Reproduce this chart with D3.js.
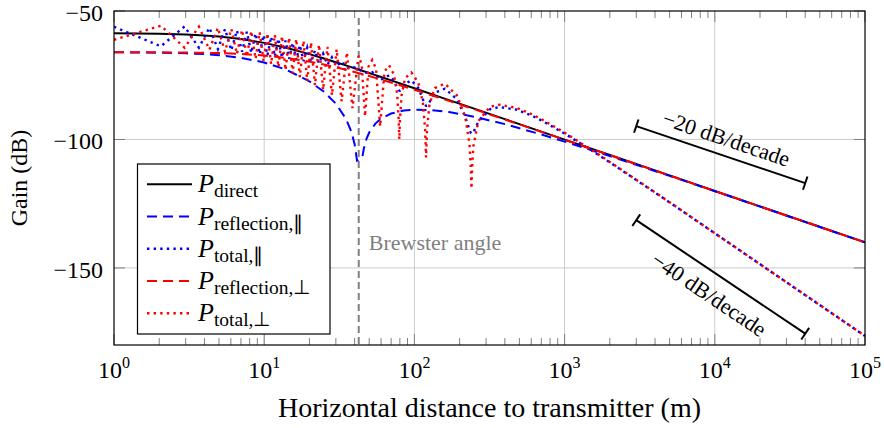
<html>
<head>
	<title>two-ray ground reflection</title>
	<style>
		body { margin: 0; background: #fff; }
		text { font-family: "Liberation Serif", serif; fill: #000; }
	</style>
</head>
<body>
<div id="dataviz"></div>

<script src="https://d3js.org/d3.v7.min.js"></script>
<script>

	//distances (m) for the smooth curves
	var smoothDist = [1, 2, 3, 4, 5, 7, 10, 14, 20, 25, 30, 35, 38, 40, 41.5, 45, 46, 48, 50, 55, 60, 70, 85,
		100, 130, 170, 250, 400, 700, 1000, 2000, 5000, 10000, 100000];
	var directGain = [-58.70, -58.87, -59.15, -59.51, -59.93, -60.89, -62.41, -64.34, -66.79, -68.48, -69.93, -71.18,
		-71.86, -72.28, -72.59, -73.27, -73.45, -73.81, -74.15, -74.96, -75.70, -77.02, -78.68, -80.08, -82.35, -84.67,
		-88.01, -92.09, -96.95, -100.05, -106.07, -113.98, -120.05, -140.05];
	var reflParGain = [-66.07, -66.22, -66.46, -66.79, -67.20, -68.20, -70.03, -72.82, -77.36, -81.45, -86.07, -91.91,
		-96.89, -101.88, -108.25, -107.0, -103.7, -99.75, -97.31, -93.81, -91.90, -89.91, -88.74, -88.38, -88.56, -89.34,
		-91.15, -94.04, -98.06, -100.83, -106.46, -114.18, -120.13, -140.06];
	var reflPerpGain = [-66.04, -66.08, -66.16, -66.26, -66.39, -66.71, -67.32, -68.26, -69.71, -70.85, -71.91, -72.88,
		-73.42, -73.77, -74.02, -74.58, -74.74, -75.04, -75.33, -76.03, -76.68, -77.85, -79.36, -80.66, -82.79, -85.00,
		-88.24, -92.23, -97.03, -100.11, -106.10, -114.04, -120.06, -140.05];

	//distances (m) for the interference curves (peaks and nulls)
	var totalDist = [1, 2.051, 2.950, 3.675, 4.318, 4.916, 5.485, 6.038, 6.581, 7.121, 7.663, 8.209, 8.763, 9.329,
		9.909, 10.506, 11.124, 11.766, 12.435, 13.135, 13.871, 14.646, 15.467, 16.340, 17.272, 18.270, 19.346, 20.509,
		21.775, 23.159, 24.682, 26.368, 28.249, 30.364, 32.762, 35.514, 38.702, 42.450, 44.583, 46.923, 49.505, 52.367,
		55.559, 59.142, 63.197, 67.822, 73.151, 76.76, 78.56, 79.359, 80.17, 82.14, 86.686, 95.466, 106.19, 113.84,
		117.79, 119.57, 121.41, 125.91, 136.77, 159.68, 191.73, 217.95, 232.8, 237.4, 239.79, 242.2, 247.2, 266.47,
		319.84, 369.2, 479.9, 600, 700, 1000, 1500, 2000, 3000, 5000, 10000, 30000, 100000];
	var totalParGain = [-56.14, -63.75, -56.02, -64.29, -56.51, -64.82, -57.03, -65.33, -57.56, -65.84, -58.12, -66.33,
		-58.71, -66.81, -59.34, -67.28, -60.00, -67.74, -60.72, -68.18, -61.50, -68.62, -62.32, -69.06, -63.23, -69.50,
		-64.23, -69.94, -65.35, -70.40, -66.59, -70.90, -68.01, -71.45, -69.66, -72.08, -71.60, -72.83, -73.19, -73.97,
		-74.05, -73.78, -74.99, -76.96, -76.00, -75.08, -77.13, -79.76, -80.81, -80.99, -81.03, -80.57, -78.42, -76.98,
		-79.93, -84.36, -86.48, -86.93, -86.92, -85.48, -81.79, -80.25, -84.29, -91.17, -96.34, -97.44, -97.71, -97.77,
		-97.19, -93.07, -88.19, -87.36, -88.42, -90.65, -92.57, -97.69, -104.14, -108.91, -115.77, -124.49, -136.51,
		-155.58, -176.48];
	var totalPerpGain = [-61.20, -55.73, -64.25, -56.12, -65.05, -56.52, -65.89, -56.93, -66.76, -57.35, -67.67, -57.78,
		-68.62, -58.23, -69.62, -58.71, -70.69, -59.21, -71.82, -59.73, -73.03, -60.29, -74.32, -60.90, -75.72, -61.55,
		-77.24, -62.27, -78.90, -63.05, -80.74, -63.93, -82.80, -64.93, -85.13, -66.08, -87.83, -67.43, -70.79, -91.02,
		-71.61, -69.06, -72.53, -94.91, -73.57, -71.15, -74.76, -82.28, -92.07, -99.95, -92.26, -82.85, -76.16, -73.96,
		-77.85, -85.59, -95.88, -107.02, -96.16, -86.45, -79.98, -78.28, -82.85, -91.12, -101.93, -110.97, -119.12,
		-111.16, -102.46, -92.85, -87.23, -86.46, -87.71, -90.08, -92.07, -97.35, -103.91, -108.74, -115.67, -124.43,
		-136.49, -155.57, -176.48];

	//axis ticks
	var xTicks = [1, 10, 100, 1000, 10000, 100000];
	var xTickExp = ['0', '1', '2', '3', '4', '5'];
	var yTicks = [-50, -100, -150];
	var yTickLabels = ['\u221250', '\u2212100', '\u2212150'];

	//annotations
	var brewsterDist = 42.6;
	var slopeLabels = ['\u221220 dB/decade', '\u221240 dB/decade'];
	var slopeFrom = [[3000, -94.8], [3000, -131.4]];
	var slopeTo = [[40000, -117.0], [40000, -175.6]];

	var legendNames = ['direct', 'reflection,\u2225', 'total,\u2225', 'reflection,\u22a5', 'total,\u22a5'];

	//display variables
	var width = 884;
	var height = 428;
	var plotL = 114, plotR = 865, plotT = 11, plotB = 345;
	var dashed = '10 6';
	var dotted = '2.4 4.2';

	var svg = d3.select('#dataviz')
		.append('svg')
		.attr('width', width)
		.attr('height', height);

	svg.append('rect').attr('width', width).attr('height', height).attr('fill', '#fff');

	var x = d3.scaleLog().domain([1, 1e5]).range([plotL, plotR]);
	var y = d3.scaleLinear().domain([-180, -50]).range([plotB, plotT]);

	svg.append('clipPath').attr('id', 'plotclip')
		.append('rect').attr('x', plotL).attr('y', plotT).attr('width', plotR - plotL).attr('height', plotB - plotT);

	//grid
	var grid = svg.append('g').attr('stroke', '#cccccc').attr('stroke-width', 1);
	xTicks.slice(1, -1).forEach(function(t) {
		grid.append('line').attr('x1', x(t)).attr('x2', x(t)).attr('y1', plotT).attr('y2', plotB);
	});
	yTicks.slice(1).forEach(function(t) {
		grid.append('line').attr('x1', plotL).attr('x2', plotR).attr('y1', y(t)).attr('y2', y(t));
	});

	//ticks, minor ones on the log axis
	var ticks = svg.append('g').attr('stroke', '#808080').attr('stroke-width', 1);
	for (var k = 0; k < 5; k++) {
		for (var m = 2; m < 10; m++) {
			var px = x(m * Math.pow(10, k));
			ticks.append('line').attr('x1', px).attr('x2', px).attr('y1', plotB).attr('y2', plotB - 7);
			ticks.append('line').attr('x1', px).attr('x2', px).attr('y1', plotT).attr('y2', plotT + 7);
		}
	}
	xTicks.forEach(function(t) {
		ticks.append('line').attr('x1', x(t)).attr('x2', x(t)).attr('y1', plotB).attr('y2', plotB - 11);
		ticks.append('line').attr('x1', x(t)).attr('x2', x(t)).attr('y1', plotT).attr('y2', plotT + 11);
	});
	yTicks.forEach(function(t) {
		ticks.append('line').attr('x1', plotL).attr('x2', plotL + 11).attr('y1', y(t)).attr('y2', y(t));
		ticks.append('line').attr('x1', plotR).attr('x2', plotR - 11).attr('y1', y(t)).attr('y2', y(t));
	});

	//brewster angle marker
	svg.append('line')
		.attr('x1', x(brewsterDist)).attr('x2', x(brewsterDist))
		.attr('y1', 18).attr('y2', plotB)
		.attr('stroke', '#808080').attr('stroke-width', 2).attr('stroke-dasharray', '7 4');
	svg.append('text')
		.attr('x', x(brewsterDist) + 10).attr('y', 250)
		.attr('font-size', 22).style('fill', '#808080')
		.text('Brewster angle');

	//curves
	var line = d3.line().x(function(d) { return x(d[0]); }).y(function(d) { return y(d[1]); });
	var curves = svg.append('g').attr('clip-path', 'url(#plotclip)').attr('fill', 'none');
	var series = [
		{dist: smoothDist, gain: directGain, color: 'black', dash: null},
		{dist: smoothDist, gain: reflParGain, color: 'blue', dash: dashed},
		{dist: totalDist, gain: totalParGain, color: 'blue', dash: dotted},
		{dist: smoothDist, gain: reflPerpGain, color: 'red', dash: dashed},
		{dist: totalDist, gain: totalPerpGain, color: 'red', dash: dotted}
	];
	series.forEach(function(s) {
		curves.append('path')
			.attr('d', line(d3.zip(s.dist, s.gain)))
			.attr('stroke', s.color)
			.attr('stroke-width', s.dash == dotted ? 2.4 : 2)
			.attr('stroke-dasharray', s.dash);
	});

	//slope markers
	slopeLabels.forEach(function(label, i) {
		var x1 = x(slopeFrom[i][0]), y1 = y(slopeFrom[i][1]);
		var x2 = x(slopeTo[i][0]), y2 = y(slopeTo[i][1]);
		var a = Math.atan2(y2 - y1, x2 - x1);
		var nx = Math.sin(a), ny = -Math.cos(a);
		var g = svg.append('g').attr('stroke', 'black').attr('stroke-width', 2);
		g.append('line').attr('x1', x1).attr('y1', y1).attr('x2', x2).attr('y2', y2);
		[[x1, y1], [x2, y2]].forEach(function(p) {
			g.append('line')
				.attr('x1', p[0] + nx * 7).attr('y1', p[1] + ny * 7)
				.attr('x2', p[0] - nx * 7).attr('y2', p[1] - ny * 7);
		});
		var off = i == 0 ? 17 : -21;
		var cx = (x1 + x2) / 2 + nx * off, cy = (y1 + y2) / 2 + ny * off;
		svg.append('text')
			.attr('transform', 'translate(' + cx + ',' + cy + ') rotate(' + (a * 180 / Math.PI) + ')')
			.attr('text-anchor', 'middle').attr('dominant-baseline', 'central')
			.attr('font-size', 22)
			.text(label);
	});

	//frame
	svg.append('rect')
		.attr('x', plotL).attr('y', plotT).attr('width', plotR - plotL).attr('height', plotB - plotT)
		.attr('fill', 'none').attr('stroke', 'black').attr('stroke-width', 1.2);

	//tick labels
	xTicks.forEach(function(t, i) {
		var lab = svg.append('text')
			.attr('x', x(t)).attr('y', 378)
			.attr('text-anchor', 'middle')
			.attr('font-size', 24);
		lab.append('tspan').text('10');
		lab.append('tspan').attr('font-size', 16).attr('dy', -10).text(xTickExp[i]);
	});
	yTicks.forEach(function(t, i) {
		svg.append('text')
			.attr('x', 103).attr('y', y(t) + 10)
			.attr('text-anchor', 'end')
			.attr('font-size', 24)
			.text(yTickLabels[i]);
	});

	//axis labels
	svg.append('text')
		.attr('x', (plotL + plotR) / 2).attr('y', 417)
		.attr('text-anchor', 'middle')
		.attr('font-size', 28)
		.text('Horizontal distance to transmitter (m)');
	svg.append('text')
		.attr('transform', 'translate(27,' + ((plotT + plotB) / 2) + ') rotate(-90)')
		.attr('text-anchor', 'middle')
		.attr('font-size', 24)
		.text('Gain (dB)');

	//legend
	var legend = svg.append('g');
	legend.append('rect')
		.attr('x', 137.5).attr('y', 164).attr('width', 192.5).attr('height', 170)
		.attr('fill', 'white').attr('stroke', 'black').attr('stroke-width', 1.2);
	legendNames.forEach(function(name, i) {
		var ry = 184.3 + i * 32.25;
		legend.append('line')
			.attr('x1', 147).attr('x2', 192).attr('y1', ry).attr('y2', ry)
			.attr('stroke', series[i].color)
			.attr('stroke-width', series[i].dash == dotted ? 2.4 : 2)
			.attr('stroke-dasharray', series[i].dash);
		var t = legend.append('text').attr('x', 198).attr('y', ry + 8).attr('font-size', 26);
		t.append('tspan').attr('font-style', 'italic').text('P');
		t.append('tspan').attr('font-size', 19.5).attr('dy', 5).text(name);
	});

</script>
</body>
</html>
